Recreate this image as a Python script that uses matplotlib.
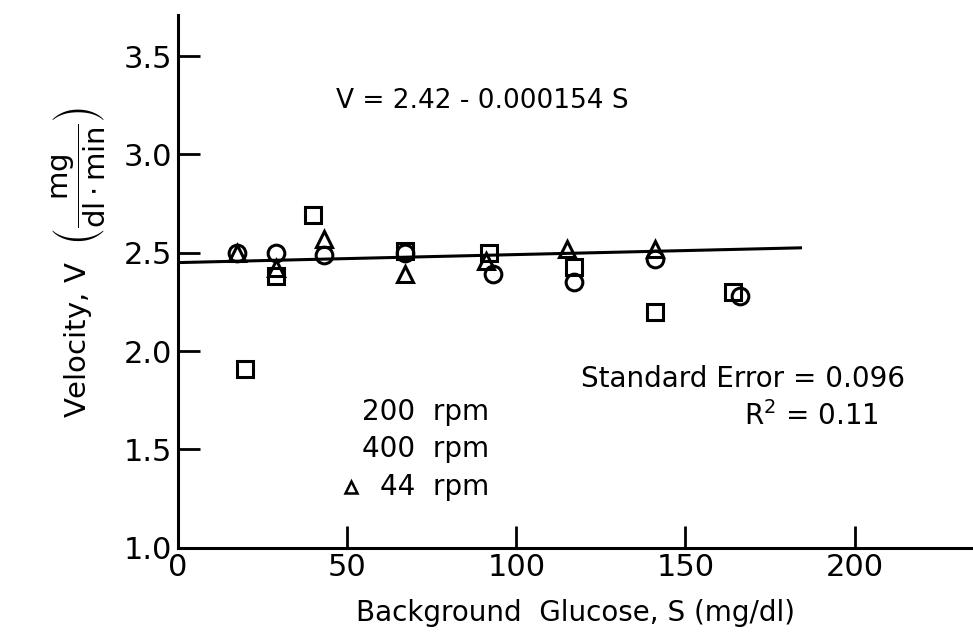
import matplotlib
matplotlib.use("Agg")
import matplotlib.pyplot as plt

# glucose (mg/dl) and velocity values
s_circle = [17.5, 29, 43, 67, 93, 117, 141, 166]
v_circle = [2.50, 2.50, 2.49, 2.50, 2.39, 2.35, 2.47, 2.28]

s_square = [19.8, 29, 40, 67, 92, 117, 141, 164]
v_square = [1.91, 2.38, 2.69, 2.51, 2.50, 2.43, 2.20, 2.30]

s_tri = [17.5, 29, 43, 67, 91, 115, 141]
v_tri = [2.50, 2.42, 2.57, 2.39, 2.46, 2.52, 2.52]

fit_s = [0, 184]
fit_v = [2.45, 2.525]

yticks = [1.0, 1.5, 2.0, 2.5, 3.0, 3.5]
ytick_labels = ["1.0", "1.5", "2.0", "2.5", "3.0", "3.5"]
xticks = [0, 50, 100, 150, 200]

plt.rcParams["font.family"] = ["DejaVu Sans"]

fig = plt.figure(figsize=(9.73, 6.40), dpi=100)
ax = fig.add_axes([0.183, 0.144, 0.817, 0.833])

mk = dict(linestyle="none", markerfacecolor="none", markeredgecolor="black",
          markersize=12, markeredgewidth=2.2)
ax.plot(s_circle, v_circle, marker="o", **mk)
ax.plot(s_square, v_square, marker="s", **mk)
ax.plot(s_tri, v_tri, marker="^", **mk)
ax.plot(fit_s, fit_v, color="black", linewidth=2.2)

ax.set_xlim(0, 235)
ax.set_ylim(1.0, 3.71)
ax.set_xticks(xticks)
ax.set_yticks(yticks)
ax.set_yticklabels(ytick_labels)
ax.tick_params(direction="in", length=16, width=2, labelsize=22, pad=4)
for side in ["top", "right"]:
    ax.spines[side].set_visible(False)
for side in ["left", "bottom"]:
    ax.spines[side].set_linewidth(2.2)

ax.set_xlabel("Background  Glucose, S (mg/dl)", fontsize=20, labelpad=12)
ax.set_ylabel(r"Velocity, V  $\left(\dfrac{\mathrm{mg}}{\mathrm{dl \cdot min}}\right)$",
              fontsize=21)
ax.yaxis.set_label_coords(-0.088, 0.535)

ax.text(90, 3.27, "V = 2.42 - 0.000154 S", fontsize=19, ha="center", va="center")
ax.text(215, 1.86, "Standard Error = 0.096", fontsize=20, ha="right", va="center")
ax.text(207, 1.67, r"R$^2$ = 0.11", fontsize=20, ha="right", va="center")

ax.text(92, 1.69, "200  rpm", fontsize=20, ha="right", va="center")
ax.text(92, 1.50, "400  rpm", fontsize=20, ha="right", va="center")
ax.text(92, 1.31, "44  rpm", fontsize=20, ha="right", va="center")
ax.plot([51], [1.31], marker="^", linestyle="none", markerfacecolor="none",
        markeredgecolor="black", markersize=9, markeredgewidth=1.8)

fig.savefig("out.png", dpi=100)
plt.close(fig)
